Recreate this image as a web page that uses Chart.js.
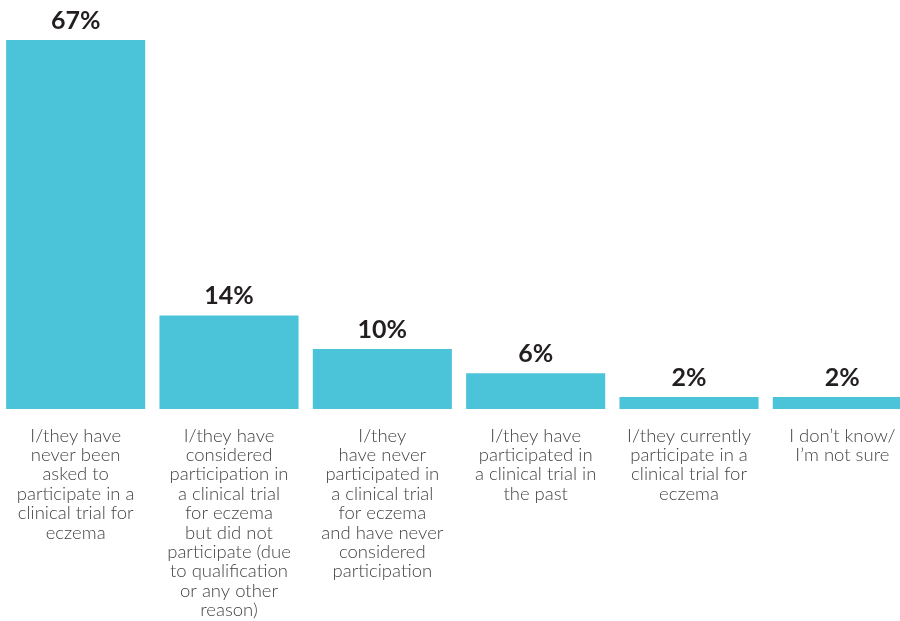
<!DOCTYPE html>
<html>
<head>
<meta charset="utf-8">
<script src="https://cdn.jsdelivr.net/npm/chart.js@4/dist/chart.umd.min.js"></script>
<style>
    html, body { margin: 0; padding: 0; background: #ffffff; overflow: hidden; }
    #wrap { position: absolute; left: -1px; top: 0; width: 920px; height: 621px; }
</style>
</head>
<body>
<div id="wrap"><canvas id="chart" width="920" height="621"></canvas></div>
<script>
// Categorias (rótulos multilinha como no original)
const categories = [
    ['I/they have', 'never been', 'asked to', 'participate in a', 'clinical trial for', 'eczema'],
    ['I/they have', 'considered', 'participation in', 'a clinical trial', 'for eczema', 'but did not', 'participate (due', 'to qualification', 'or any other', 'reason)'],
    ['I/they', 'have never', 'participated in', 'a clinical trial', 'for eczema', 'and have never', 'considered', 'participation'],
    ['I/they have', 'participated in', 'a clinical trial in', 'the past'],
    ['I/they currently', 'participate in a', 'clinical trial for', 'eczema'],
    ['I don\u2019t know/', 'I\u2019m not sure']
];

// Altura das barras (%)
const barValues = [67, 17, 10.9, 6.5, 2.2, 2.2];

// Percentuais impressos acima das barras
const shareLabels = ['67%', '14%', '10%', '6%', '2%', '2%'];

const BAR_COLOR = '#4bc4da';
const TEXT_DARK = '#231f20';
const TEXT_GRAY = '#444444';

// Plugin simples para escrever os percentuais acima das barras
const valueLabels = {
    id: 'valueLabels',
    afterDatasetsDraw(chart) {
        const ctx = chart.ctx;
        const meta = chart.getDatasetMeta(0);
        ctx.save();
        ctx.font = 'bold 25px Lato, "DejaVu Sans", sans-serif';
        ctx.fillStyle = TEXT_DARK;
        ctx.textAlign = 'center';
        ctx.textBaseline = 'alphabetic';
        meta.data.forEach((bar, i) => {
            ctx.fillText(shareLabels[i], bar.x, bar.y - 11);
        });
        ctx.restore();
    }
};

new Chart(document.getElementById('chart'), {
    type: 'bar',
    data: {
        labels: categories,
        datasets: [{
            data: barValues,
            backgroundColor: BAR_COLOR,
            borderWidth: 0,
            barPercentage: 0.907,
            categoryPercentage: 1
        }]
    },
    options: {
        responsive: false,
        animation: false,
        layout: { padding: 0 },
        plugins: {
            legend: { display: false },
            tooltip: { enabled: false }
        },
        scales: {
            x: {
                grid: { display: false, drawTicks: false },
                border: { display: false },
                ticks: {
                    color: TEXT_GRAY,
                    padding: 17,
                    maxRotation: 0,
                    autoSkip: false,
                    font: {
                        family: 'Lato',
                        size: 18.5,
                        weight: '300',
                        lineHeight: '19.4px'
                    }
                },
                afterFit(scale) {
                    scale.height = 212;
                }
            },
            y: {
                display: false,
                min: 0,
                max: 74.27
            }
        }
    },
    plugins: [valueLabels]
});
</script>
</body>
</html>
